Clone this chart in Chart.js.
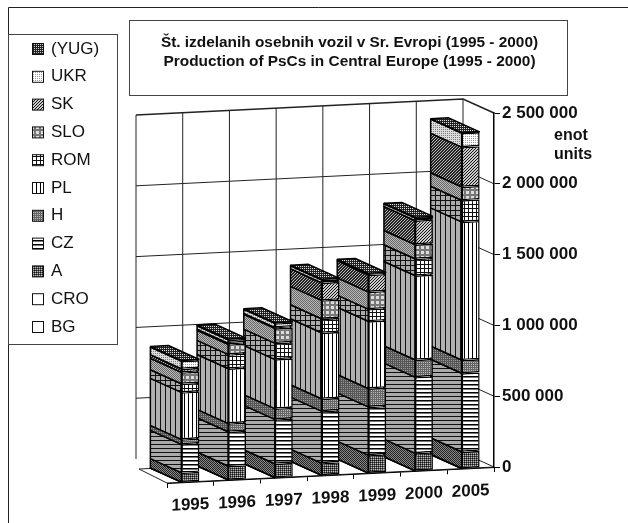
<!DOCTYPE html>
<html>
<head>
<meta charset="utf-8">
<style>
    html, body { margin: 0; padding: 0; background: #fff; }
    canvas { display: block; }
</style>
<script src="https://cdn.jsdelivr.net/npm/chart.js@4/dist/chart.umd.min.js"></script>
</head>
<body>
<canvas id="chart" width="628" height="523"></canvas>
<script>
// --- DATA ---
const years = ['1995', '1996', '1997', '1998', '1999', '2000', '2005'];
const yTicks = [0, 500000, 1000000, 1500000, 2000000, 2500000];
const titleLines = [
    'Št. izdelanih osebnih vozil v Sr. Evropi (1995 - 2000)',
    'Production of PsCs in Central Europe (1995 - 2000)'
];
const unitLines = ['enot', 'units'];

const BG = [1000, 1000, 1000, 1000, 1000, 1000, 1000];
const CRO = [1000, 1000, 1000, 1000, 1000, 1000, 1000];
const A = [66000, 97000, 97000, 85000, 125000, 123000, 117000];
const CZ = [200000, 242000, 313000, 367000, 341000, 537000, 554000];
const H = [35000, 59000, 76000, 88000, 130000, 123000, 94000];
const PL = [332000, 388000, 348000, 466000, 475000, 595000, 975000];
const ROM = [61000, 99000, 115000, 99000, 85000, 118000, 153000];
const SLO = [80000, 71000, 104000, 129000, 122000, 101000, 95000];
const SK = [26000, 9000, 7000, 125000, 120000, 169000, 280000];
const UKR = [54000, 24000, 28000, 20000, 8000, 20000, 100000];
const YUG = [5000, 5000, 5000, 5000, 3000, 3000, 2000];

// --- 3D LOOK ---
const TILT = 0.049;   // the floor rises to the right
const DEPTH_X = 31;
const DEPTH_Y = 14;
const FONT = '"Liberation Sans", Arial, sans-serif';

// small pixel tiles, one character = one pixel
function tile(rows, colors) {
    const c = document.createElement('canvas');
    c.width = rows[0].length;
    c.height = rows.length;
    const g = c.getContext('2d');
    rows.forEach((row, y) => {
        [...row].forEach((ch, x) => {
            g.fillStyle = colors[ch];
            g.fillRect(x, y, 1, 1);
        });
    });
    return g.createPattern(c, 'repeat');
}

const white = ['.'];
const styles = {
    'BG': { front: [white, { '.': '#fff' }], side: [white, { '.': '#fff' }] },
    'CRO': { front: [white, { '.': '#fff' }], side: [white, { '.': '#fff' }] },
    'A': {
        front: [['#+', '+.'], { '#': '#111', '+': '#555', '.': '#bbb' }],
        side: [['#+', '+#'], { '#': '#222', '+': '#888' }]
    },
    'CZ': {
        front: [['#', '+', '.', '.'], { '#': '#000', '+': '#777', '.': '#fff' }],
        side: [['#', '+', '+', '+'], { '#': '#111', '+': '#aaa' }]
    },
    'H': {
        front: [['+.', '++'], { '+': '#666', '.': '#bbb' }],
        side: [['+.', '++'], { '+': '#555', '.': '#999' }]
    },
    'PL': {
        front: [['#...'], { '#': '#000', '.': '#fff' }],
        side: [['#++++'], { '#': '#111', '+': '#b0b0b0' }]
    },
    'ROM': {
        front: [['####', '#...', '#...', '#...'], { '#': '#111', '.': '#fff' }],
        side: [['#####', '#++++', '#++++', '#++++', '#++++'], { '#': '#111', '+': '#aaa' }]
    },
    'SLO': {
        front: [['+++++', '+...+', '+...+', '+...+', '+++++'], { '+': '#777', '.': '#ddd' }],
        side: [['+.', '.+'], { '+': '#666', '.': '#bbb' }]
    },
    'SK': {
        front: [['..#', '.#.', '#..'], { '#': '#111', '.': '#ccc' }],
        side: [['.##', '##.', '#.#'], { '#': '#222', '.': '#bbb' }]
    },
    'UKR': {
        front: [['.+', '..'], { '+': '#999', '.': '#fff' }],
        side: [['..', '.+'], { '+': '#777', '.': '#ddd' }]
    },
    '(YUG)': {
        front: [['.#', '##'], { '#': '#222', '.': '#ccc' }],
        side: [['.#', '##'], { '#': '#222', '.': '#aaa' }]
    }
};

const seriesNames = ['BG', 'CRO', 'A', 'CZ', 'H', 'PL', 'ROM', 'SLO', 'SK', 'UKR', '(YUG)'];
const seriesValues = [BG, CRO, A, CZ, H, PL, ROM, SLO, SK, UKR, YUG];

const topPattern = tile(['.#', '##'], { '#': '#222', '.': '#ddd' });
const sidePatterns = seriesNames.map(n => tile(...styles[n].side));
const legendPatterns = seriesNames.map(n => tile(...styles[n].front));

// front faces get drawn under the tilt, so undo it on the pattern to keep the tile on whole pixels
function frontPattern(name, right) {
    const p = tile(...styles[name].front);
    p.setTransform(new DOMMatrix([1, TILT, 0, 1, 0, -right * TILT]));
    return p;
}

function poly(ctx, pts, fill) {
    ctx.beginPath();
    pts.forEach((p, i) => (i ? ctx.lineTo(p[0], p[1]) : ctx.moveTo(p[0], p[1])));
    ctx.closePath();
    if (fill) {
        ctx.fillStyle = fill;
        ctx.fill();
    }
    ctx.stroke();
}

// --- PLUGIN: frames, walls, floor, side and top faces ---
const pseudo3d = {
    id: 'pseudo3d',
    beforeDraw(chart) {
        const { ctx, chartArea } = chart;
        const { y: ys } = chart.scales;
        const right = chartArea.right;
        const tilt = x => (right - x) * TILT;
        ctx.save();

        // page frame, title box, legend box
        ctx.strokeStyle = '#222';
        ctx.lineWidth = 1;
        ctx.beginPath();
        ctx.moveTo(8.5, 523);
        ctx.lineTo(8.5, 7.5);
        ctx.lineTo(628, 7.5);
        ctx.stroke();
        ctx.strokeStyle = '#444';
        ctx.strokeRect(129.5, 20.5, 438, 75);
        ctx.strokeRect(8.5, 34.5, 109, 310);

        // title and units
        ctx.fillStyle = '#111';
        ctx.textAlign = 'center';
        ctx.textBaseline = 'middle';
        ctx.font = 'bold 15.4px ' + FONT;
        titleLines.forEach((line, i) => ctx.fillText(line, 349.5, 43 + i * 19));
        ctx.textAlign = 'left';
        ctx.font = 'bold 16px ' + FONT;
        unitLines.forEach((line, i) => ctx.fillText(line, 554, 136 + i * 19));

        // legend, top series first like the reference
        ctx.font = '17px ' + FONT;
        for (let i = seriesNames.length - 1, row = 0; i >= 0; i--, row++) {
            const y = 49 + row * 27.8;
            ctx.fillStyle = legendPatterns[i];
            ctx.strokeStyle = '#111';
            ctx.fillRect(32.5, y - 5.5, 11, 11);
            ctx.strokeRect(32.5, y - 5.5, 11, 11);
            ctx.fillStyle = '#111';
            ctx.fillText(seriesNames[i], 51, y);
        }

        // back wall and right wall
        ctx.strokeStyle = '#222';
        const left = chartArea.left;
        yTicks.forEach(v => {
            const y = ys.getPixelForValue(v);
            if (v > 0) {
                ctx.lineWidth = v === yTicks[yTicks.length - 1] ? 1.6 : 1;
                ctx.beginPath();
                ctx.moveTo(left - DEPTH_X, y + tilt(left) - DEPTH_Y);
                ctx.lineTo(right - DEPTH_X, y - DEPTH_Y);
                ctx.lineTo(right, y);
                ctx.stroke();
            }
        });
        ctx.lineWidth = 1;
        const yTop = ys.getPixelForValue(yTicks[yTicks.length - 1]);
        const yZero = ys.getPixelForValue(0);
        for (let i = 0; i <= years.length; i++) {
            const xf = left + (right - left) * i / years.length;
            ctx.beginPath();
            ctx.moveTo(xf - DEPTH_X, yTop + tilt(xf) - DEPTH_Y);
            ctx.lineTo(xf - DEPTH_X, yZero + tilt(xf) - DEPTH_Y - (i === 0 ? 10 : 0));
            ctx.stroke();
        }

        // floor
        poly(ctx, [
            [left - DEPTH_X + 3, yZero + tilt(left) - DEPTH_Y],
            [left, yZero + tilt(left)],
            [right, yZero],
            [right - DEPTH_X, yZero - DEPTH_Y]
        ], '#fff');
        ctx.restore();
    },
    beforeDatasetsDraw(chart) {
        const { ctx, chartArea } = chart;
        const right = chartArea.right;
        const tilt = x => (right - x) * TILT;
        ctx.save();
        ctx.strokeStyle = '#000';
        ctx.lineWidth = 1.5;
        ctx.lineJoin = 'bevel';

        // side faces go behind every front face
        seriesNames.forEach((name, s) => {
            chart.getDatasetMeta(s).data.forEach(bar => {
                const xl = bar.x - bar.width / 2;
                const top = bar.y + tilt(xl);
                const base = bar.base + tilt(xl);
                poly(ctx, [
                    [xl, top],
                    [xl, base],
                    [xl - DEPTH_X, base - DEPTH_Y],
                    [xl - DEPTH_X, top - DEPTH_Y]
                ], sidePatterns[s]);
            });
        });

        // top faces sit on the last series
        chart.getDatasetMeta(seriesNames.length - 1).data.forEach(bar => {
            const xl = bar.x - bar.width / 2;
            const xr = bar.x + bar.width / 2;
            poly(ctx, [
                [xl, bar.y + tilt(xl)],
                [xr, bar.y + tilt(xr)],
                [xr - DEPTH_X, bar.y + tilt(xr) - DEPTH_Y],
                [xl - DEPTH_X, bar.y + tilt(xl) - DEPTH_Y]
            ], topPattern);
        });
        ctx.restore();

        // bars and the year axis are drawn next, all under the tilt; restored in afterDraw
        ctx.save();
        ctx.transform(1, -TILT, 0, 1, 0, right * TILT);
    },
    afterDraw(chart) {
        chart.ctx.restore();
    }
};

const AXIS_RIGHT = 494;
const AXIS_ZERO = 467;

new Chart(document.getElementById('chart'), {
    type: 'bar',
    data: {
        labels: years,
        datasets: seriesNames.map((name, s) => ({
            label: name,
            data: seriesValues[s],
            backgroundColor: frontPattern(name, AXIS_RIGHT),
            borderColor: '#000',
            borderWidth: 1.5,
            borderSkipped: false,
            clip: false
        }))
    },
    plugins: [pseudo3d],
    options: {
        responsive: false,
        animation: false,
        events: [],
        layout: { autoPadding: false, padding: { left: 167, top: 113, right: 0, bottom: 0 } },
        plugins: { legend: { display: false }, tooltip: { enabled: false } },
        datasets: { bar: { categoryPercentage: 1, barPercentage: 0.385 } },
        scales: {
            x: {
                stacked: true,
                afterFit(scale) { scale.height = 523 - AXIS_ZERO; },
                grid: { drawOnChartArea: false, color: '#000', tickLength: 5, z: 1 },
                border: { color: '#000', width: 1, z: 1 },
                ticks: {
                    z: 1,
                    color: '#111',
                    maxRotation: 0,
                    padding: 8,
                    autoSkip: false,
                    font: { family: FONT, size: 17, weight: 'bold' }
                }
            },
            y: {
                stacked: true,
                position: 'right',
                min: 0,
                max: 2500000,
                afterFit(scale) { scale.width = 628 - AXIS_RIGHT; },
                afterBuildTicks(scale) { scale.ticks = yTicks.map(value => ({ value })); },
                grid: { drawOnChartArea: false, color: '#000', tickLength: 6 },
                border: { color: '#000', width: 1.5 },
                ticks: {
                    color: '#111',
                    padding: 2,
                    font: { family: FONT, size: 17, weight: 'bold' },
                    callback: value => String(value).replace(/\B(?=(\d{3})+$)/g, ' ')
                }
            }
        }
    }
});
</script>
</body>
</html>
